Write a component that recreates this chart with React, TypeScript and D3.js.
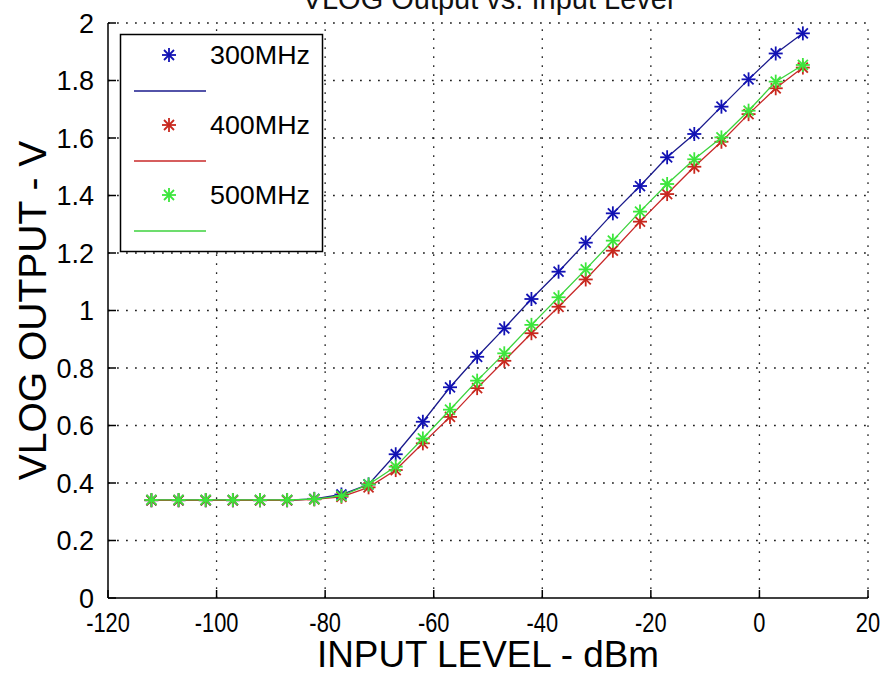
import React from "react";
import * as d3 from "d3";

const inputLevels = [-112, -107, -102, -97, -92, -87, -82, -77, -72, -67, -62, -57, -52, -47, -42, -37, -32, -27, -22, -17, -12, -7, -2, 3, 8];
const vlog300 = [0.34, 0.34, 0.34, 0.34, 0.34, 0.34, 0.345, 0.36, 0.395, 0.5, 0.613, 0.733, 0.839, 0.938, 1.04, 1.135, 1.236, 1.338, 1.433, 1.533, 1.614, 1.709, 1.804, 1.894, 1.964];
const vlog400 = [0.34, 0.34, 0.34, 0.34, 0.34, 0.34, 0.343, 0.352, 0.385, 0.445, 0.538, 0.63, 0.73, 0.825, 0.921, 1.013, 1.108, 1.208, 1.309, 1.405, 1.5, 1.587, 1.683, 1.773, 1.845];
const vlog500 = [0.341, 0.341, 0.341, 0.341, 0.341, 0.341, 0.344, 0.355, 0.395, 0.457, 0.555, 0.655, 0.756, 0.851, 0.95, 1.046, 1.143, 1.243, 1.344, 1.44, 1.526, 1.602, 1.695, 1.796, 1.854];
const seriesNames = ["300MHz", "400MHz", "500MHz"];
const xTicks = [-120, -100, -80, -60, -40, -20, 0, 20];
const yTicks = [0, 0.2, 0.4, 0.6, 0.8, 1, 1.2, 1.4, 1.6, 1.8, 2];
const yTickLabels = ["0", "0.2", "0.4", "0.6", "0.8", "1", "1.2", "1.4", "1.6", "1.8", "2"];

const FONT = "'Liberation Sans', Arial, Helvetica, sans-serif";
const W = 883, H = 673;
const L = 108, R = 868, T = 23, B = 598;

const seriesColors = [
  { marker: "#1212b4", line: "#1a1a8c" },
  { marker: "#c8281e", line: "#c82828" },
  { marker: "#3ce63c", line: "#3cd23c" },
];

function Star({ x, y, color }: { x: number; y: number; color: string }) {
  const a = 7, d = 5;
  return (
    <g stroke={color} strokeWidth={1.8}>
      <line x1={x - a} y1={y} x2={x + a} y2={y} />
      <line x1={x} y1={y - a} x2={x} y2={y + a} />
      <line x1={x - d} y1={y - d} x2={x + d} y2={y + d} />
      <line x1={x - d} y1={y + d} x2={x + d} y2={y - d} />
    </g>
  );
}

export default function App() {
  const x = d3.scaleLinear().domain([-120, 20]).range([L, R]);
  const y = d3.scaleLinear().domain([0, 2]).range([B, T]);
  const allSeries = [vlog300, vlog400, vlog500];
  const line = d3
    .line<[number, number]>()
    .x((d) => x(d[0]))
    .y((d) => y(d[1]));

  const gridColor = "#222";
  const dash = "1.8 7.2";

  return (
    <svg width={W} height={H} style={{ position: "absolute", left: 0, top: 0, background: "#fff" }} fontFamily={FONT}>
      <rect x={0} y={0} width={W} height={H} fill="#fff" />
      {/* title (clipped at top) */}
      <text x={(L + R) / 2} y={9} textAnchor="middle" fontSize={29} fill="#111">
        VLOG Output vs. Input Level
      </text>
      {/* grid */}
      {xTicks.slice(1).map((t) => (
        <line key={"gx" + t} x1={x(t)} x2={x(t)} y1={B} y2={T} stroke={gridColor} strokeWidth={1.3} strokeDasharray={dash} />
      ))}
      {yTicks.slice(1).map((t) => (
        <line key={"gy" + t} x1={L} x2={R} y1={y(t)} y2={y(t)} stroke={gridColor} strokeWidth={1.3} strokeDasharray={dash} />
      ))}
      {/* axes */}
      <line x1={L} x2={R} y1={B} y2={B} stroke="#000" strokeWidth={1.5} />
      <line x1={L} x2={L} y1={B} y2={T} stroke="#000" strokeWidth={1.5} />
      {xTicks.map((t) => (
        <line key={"tx" + t} x1={x(t)} x2={x(t)} y1={B} y2={B - 8} stroke="#000" strokeWidth={1.5} />
      ))}
      {yTicks.map((t) => (
        <line key={"ty" + t} x1={L} x2={L + 8} y1={y(t)} y2={y(t)} stroke="#000" strokeWidth={1.5} />
      ))}
      {xTicks.map((t) => (
        <text key={"lx" + t} x={x(t)} y={632} textAnchor="middle" fontSize={28} fill="#000" transform={`translate(${x(t)},0) scale(0.78,1) translate(${-x(t)},0)`}>
          {String(t)}
        </text>
      ))}
      {yTicks.map((t, i) => (
        <text key={"ly" + t} x={94} y={y(t) + 9.5} textAnchor="end" fontSize={27} fill="#000">
          {yTickLabels[i]}
        </text>
      ))}
      {/* axis labels */}
      <text x={(L + R) / 2} y={667} textAnchor="middle" fontSize={37} fill="#000" textLength={342} lengthAdjust="spacingAndGlyphs">
        INPUT LEVEL - dBm
      </text>
      <text transform={`translate(46,${(T + B) / 2}) rotate(-90)`} textAnchor="middle" fontSize={39} fill="#000">
        VLOG OUTPUT - V
      </text>
      {/* series */}
      {allSeries.map((vals, si) => {
        const pts: [number, number][] = inputLevels.map((lv, i) => [lv, vals[i]]);
        return (
          <g key={"s" + si}>
            <path d={line(pts) || ""} fill="none" stroke={seriesColors[si].line} strokeWidth={1.3} />
            {pts.map((p, i) => (
              <Star key={i} x={x(p[0])} y={y(p[1])} color={seriesColors[si].marker} />
            ))}
          </g>
        );
      })}
      {/* legend */}
      <rect x={120.5} y={34.5} width={202} height={217} fill="#fff" stroke="#000" strokeWidth={1.5} />
      {seriesNames.map((name, i) => {
        const my = 55 + i * 70;
        return (
          <g key={"lg" + i}>
            <Star x={169} y={my} color={seriesColors[i].marker} />
            <text x={210} y={my + 9} fontSize={25} fill="#000" textLength={100} lengthAdjust="spacingAndGlyphs">
              {name}
            </text>
            <line x1={134} x2={206} y1={my + 36} y2={my + 36} stroke={seriesColors[i].line} strokeWidth={1.5} />
          </g>
        );
      })}
    </svg>
  );
}
